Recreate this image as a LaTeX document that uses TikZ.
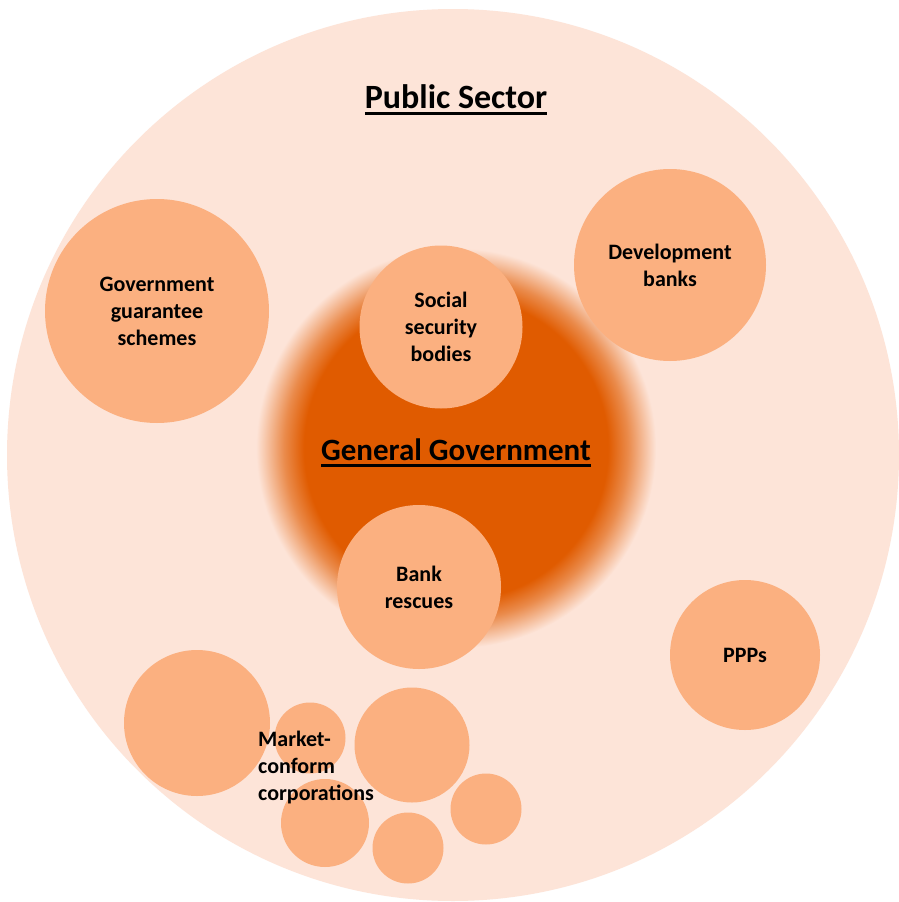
\documentclass[tikz,border=0pt]{standalone}
\usepackage{fontspec}
\setmainfont{Carlito}
\definecolor{peach}{RGB}{253,228,216}
\definecolor{blob}{RGB}{251,176,128}
\definecolor{ggorange}{RGB}{224,91,0}
\pgfdeclareradialshading{ggblur}{\pgfpoint{0bp}{0bp}}{color(0bp)=(ggorange); color(19bp)=(ggorange); color(21.5bp)=(ggorange!65!peach); color(25bp)=(peach); color(50bp)=(peach)}
\newcommand{\ulined}[1]{\setbox0\hbox{#1}\rlap{\rule[-7pt]{\wd0}{3pt}}\box0}
\begin{document}
\begin{tikzpicture}[x=1pt,y=-1pt]
    \tikzstyle{bubble}=[circle,fill=blob,inner sep=0pt,align=center,font=\bfseries\fontsize{22}{27}\selectfont]
    \tikzstyle{title}=[anchor=base,inner sep=0pt,font=\bfseries]
    \useasboundingbox[fill=white] (0,0) rectangle (899,902);
    \node[circle,fill=peach,minimum size=892pt,inner sep=0pt] (ps) at (453,455){};
    \node[title,font=\bfseries\fontsize{34}{40}\selectfont] (pstitle) at (456,108){\ulined{Public Sector}};
    \node[circle,shade,shading=ggblur,minimum size=400pt,inner sep=0pt] (gg) at (456,448){};
    \node[title,font=\bfseries\fontsize{31}{37}\selectfont] (ggtitle) at (456,460){\ulined{General Government}};
    \node[bubble,minimum size=224pt] (ggs) at (157,311){Government\\guarantee\\schemes};
    \node[bubble,minimum size=192pt] (dev) at (670,265){Development\\banks};
    \node[bubble,minimum size=163pt] (ssb) at (441,327){Social\\security\\bodies};
    \node[bubble,minimum size=164pt] (bank) at (419,587){Bank\\rescues};
    \node[bubble,minimum size=150pt] (ppp) at (745,655){PPPs};
    % market-conform cluster
    \node[bubble,minimum size=146pt] (mc1) at (197,723){};
    \node[bubble,minimum size=71pt] (mc2) at (310,738){};
    \node[bubble,minimum size=115pt] (mc3) at (412,745){};
    \node[bubble,minimum size=88pt] (mc4) at (325,823){};
    \node[bubble,minimum size=71pt] (mc5) at (408,848){};
    \node[bubble,minimum size=71pt] (mc6) at (486,809){};
    \node[anchor=west,inner sep=0pt,align=left,font=\bfseries\fontsize{22}{27}\selectfont] (mctext) at (258,768){Market-\\conform\\corporations};
  \end{tikzpicture}
\end{document}
